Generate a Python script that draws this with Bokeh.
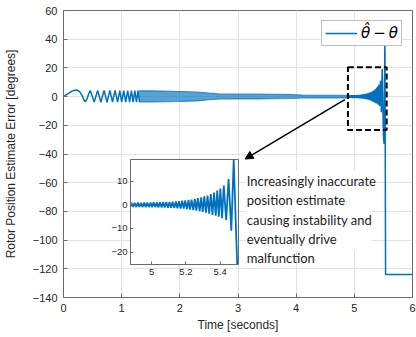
from bokeh.plotting import figure
from bokeh.models import (Range1d, FixedTicker, Legend, LegendItem, BoxAnnotation,
                          Arrow, NormalHead, Label)
from bokeh.layouts import column
from bokeh.embed import file_html
from bokeh.resources import INLINE

# ---------------- data ----------------
x_ticks = [0, 1, 2, 3, 4, 5, 6]
y_ticks = [-140, -120, -100, -80, -60, -40, -20, 0, 20, 40, 60]
inset_x_ticks = [5.0, 5.2, 5.4]
inset_x_labels = ["5", "5.2", "5.4"]
inset_y_ticks = [-20, -10, 0, 10]

# early, resolvable oscillation (t in s, error in degrees)
early_t = [0.0, 0.06, 0.12, 0.18, 0.23, 0.28, 0.32, 0.35, 0.375, 0.40, 0.43, 0.46, 0.495,
           0.527, 0.557, 0.587, 0.615, 0.643, 0.67, 0.698, 0.723, 0.748, 0.773, 0.798,
           0.842, 0.886, 0.93, 0.968, 1.0, 1.036, 1.07, 1.104, 1.136, 1.167, 1.197,
           1.226, 1.254, 1.281, 1.307]
early_y = [0.0, 1.6, 3.2, 4.3, 4.6, 3.3, 0.8, -2.2, -3.6, -2.0, 1.5, 4.3, 0.3,
           -3.8, 0.2, 4.3, 0.2, -3.9, 0.2, 4.3, 0.2, -3.9, 0.2, 4.3,
           -3.9, 4.3, -3.9, 4.2, -3.9, 4.2, -3.9, 4.2, -3.9, 4.2, -3.9,
           4.2, -3.9, 4.1, -3.9]

# dense middle part: envelope of the oscillation
band_t = [1.3, 1.5, 2.0, 2.3, 2.5, 2.7, 3.0, 3.3, 3.6, 3.9, 4.1, 4.4, 4.7, 4.876]
band_hi = [4.0, 4.0, 3.6, 3.2, 2.4, 1.8, 1.7, 1.7, 1.6, 1.4, 1.1, 0.9, 0.9, 0.9]
band_lo = [-3.8, -3.8, -3.4, -3.0, -2.2, -1.7, -1.6, -1.6, -1.5, -1.3, -1.0, -0.9, -0.9, -0.9]

# zoomed part (peaks and troughs seen in the inset)
inset_t = [4.876, 4.882, 4.891, 4.900, 4.910, 4.919, 4.928, 4.937, 4.947, 4.956, 4.965,
           4.974, 4.984, 4.993, 5.002, 5.011, 5.021, 5.030, 5.039, 5.048, 5.058, 5.067,
           5.076, 5.085, 5.095, 5.104, 5.113, 5.122, 5.132, 5.141, 5.150, 5.159, 5.169,
           5.178, 5.187, 5.196, 5.206, 5.215, 5.224, 5.233, 5.243, 5.252, 5.261, 5.270,
           5.280, 5.289, 5.298, 5.307, 5.317, 5.326, 5.336, 5.345, 5.355, 5.364, 5.374,
           5.383, 5.392, 5.401, 5.411, 5.421, 5.435, 5.449, 5.465, 5.479, 5.500]
inset_y = [-0.6, 0.9, -0.9, 0.9, -0.9, 1.0, -0.9, 0.9, -0.9, 1.0, -1.0,
           1.0, -1.0, 1.0, -1.0, 1.1, -1.0, 1.1, -1.1, 1.1, -1.1, 1.2,
           -1.1, 1.2, -1.2, 1.3, -1.2, 1.4, -1.3, 1.5, -1.4, 1.6, -1.5,
           1.8, -1.6, 1.9, -1.8, 2.1, -2.0, 2.3, -2.2, 2.6, -2.4, 2.9,
           -2.7, 3.2, -3.0, 3.6, -3.3, 4.0, -3.7, 4.6, -4.2, 5.3, -4.6,
           6.1, -5.0, 7.0, -5.6, 8.2, -6.5, 11.0, -10.9, 19.2, -27.0]

# final divergence
tail_t = [5.512, 5.526, 5.537, 6.0]
tail_y = [-33.0, 45.0, -124.0, -124.0]

late_t = inset_t + tail_t
late_y = inset_y + tail_y

legend_label = "\u03b8\u0302\u2009\u2212\u2009\u03b8"
note_text = ("Increasingly inaccurate\nposition estimate\ncausing instability and\n"
             "eventually drive\nmalfunction")

BLUE = "#0072BD"
AX = "#6b6b6b"
TXT = "#262626"
FONT = "Liberation Sans"

# ---------------- main axes ----------------
p = figure(width=416, height=337, x_range=Range1d(0, 6), y_range=Range1d(-140, 60),
           output_backend="svg", toolbar_location=None,
           min_border_left=54, min_border_right=1, min_border_top=10, min_border_bottom=40,
           x_axis_label="Time [seconds]",
           y_axis_label="Rotor Position Estimate Error [degrees]")
p.outline_line_color = AX
p.grid.grid_line_color = "#e3e3e3"
p.xaxis.ticker = FixedTicker(ticks=x_ticks)
p.yaxis.ticker = FixedTicker(ticks=y_ticks)
for ax in (p.xaxis[0], p.yaxis[0]):
    ax.axis_line_color = AX
    ax.major_tick_line_color = AX
    ax.major_tick_in = 4
    ax.major_tick_out = 0
    ax.minor_tick_line_color = None
    ax.major_label_text_font = FONT
    ax.major_label_text_font_size = "11px"
    ax.major_label_text_color = TXT
    ax.axis_label_text_font = FONT
    ax.axis_label_text_font_size = "12px"
    ax.axis_label_text_font_style = "normal"
    ax.axis_label_text_color = TXT
p.xaxis.major_label_standoff = 6
p.xaxis.axis_label_standoff = 3
p.yaxis.major_label_standoff = 6
p.yaxis.axis_label_standoff = 12

# white text box behind the note (hides the grid, under the data)
p.add_layout(BoxAnnotation(left=3.14, right=5.30, top=-51.6, bottom=-107.4,
                           fill_color="white", fill_alpha=1, line_alpha=0,
                           level="underlay"))

r_early = p.line(early_t, early_y, line_color=BLUE, line_width=1.5)
p.varea(x=band_t, y1=band_lo, y2=band_hi, fill_color=BLUE, fill_alpha=0.65)
p.line(band_t, band_hi, line_color=BLUE, line_width=1.1, line_alpha=0.75)
p.line(band_t, band_lo, line_color=BLUE, line_width=1.1, line_alpha=0.75)
p.line(late_t, late_y, line_color=BLUE, line_width=1.5)

legend = Legend(items=[LegendItem(label=legend_label, renderers=[r_early])],
                location="top_right", margin=10, padding=3, spacing=0,
                glyph_width=32, glyph_height=18, label_height=18, label_standoff=4,
                border_line_color="#7f7f7f", border_line_width=1,
                label_text_font="DejaVu Sans", label_text_font_style="italic",
                label_text_font_size="15px", label_text_color="#000000")
p.add_layout(legend)

p.add_layout(BoxAnnotation(left=4.89, right=5.556, bottom=-23.2, top=20.4,
                           fill_alpha=0, line_color="black", line_alpha=1, line_width=2,
                           line_dash="6 3"))
p.add_layout(Arrow(end=NormalHead(size=8, fill_color="black", line_color="black"),
                   x_start=4.836, y_start=-2.1, x_end=3.12, y_end=-43.5,
                   line_color="black", line_width=1.5))
p.add_layout(Label(x=3.15, y=-53.4, text=note_text, text_font="Lato",
                   text_font_size="13px", text_color="#222222", text_align="left",
                   text_baseline="top", text_line_height=1.2))

# ---------------- inset axes ----------------
q = figure(width=175, height=129, x_range=Range1d(4.876, 5.507), y_range=Range1d(-25.3, 19.3),
           output_backend="svg", toolbar_location=None,
           min_border_left=30, min_border_right=4, min_border_top=2, min_border_bottom=22,
           border_fill_alpha=0, background_fill_color="white")
q.outline_line_color = AX
q.grid.visible = False
q.xaxis.ticker = FixedTicker(ticks=inset_x_ticks)
q.xaxis.major_label_overrides = {t: s for t, s in zip(inset_x_ticks, inset_x_labels)}
q.yaxis.ticker = FixedTicker(ticks=inset_y_ticks)
for ax in (q.xaxis[0], q.yaxis[0]):
    ax.axis_line_color = AX
    ax.major_tick_line_color = AX
    ax.major_tick_in = 3
    ax.major_tick_out = 0
    ax.minor_tick_line_color = None
    ax.major_label_text_font = FONT
    ax.major_label_text_font_size = "9.5px"
    ax.major_label_text_color = TXT
q.xaxis.major_label_standoff = 4
q.yaxis.major_label_standoff = 3
q.line(late_t, late_y, line_color=BLUE, line_width=1.8)
q.margin = (-180, 0, 0, 67)

layout = column(p, q, spacing=0)
open("out.html", "w").write(file_html(layout, INLINE))
